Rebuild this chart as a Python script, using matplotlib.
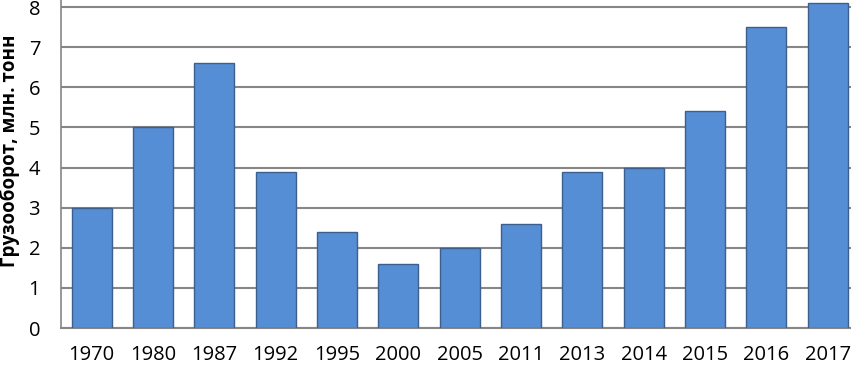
import matplotlib
matplotlib.use("Agg")
import matplotlib.pyplot as plt

# данные грузооборота
years = ["1970", "1980", "1987", "1992", "1995", "2000", "2005",
         "2011", "2013", "2014", "2015", "2016", "2017"]
cargo = [3.0, 5.0, 6.6, 3.9, 2.4, 1.6, 2.0, 2.6, 3.9, 4.0, 5.4, 7.5, 8.1]
yticks = [0, 1, 2, 3, 4, 5, 6, 7, 8]

plt.rcParams['font.family'] = ['Open Sans', 'DejaVu Sans']

fig = plt.figure(figsize=(8.51, 3.66), dpi=100)
# axes intentionally runs past the top/right edge (reference is cropped)
ax = fig.add_axes([61 / 851, 38 / 366, 797.3 / 851, 340.9 / 366])

x = range(len(years))
ax.bar(x, cargo, width=0.65, color="#558ED5", edgecolor="#3C5F8E",
       linewidth=1.0, zorder=3)

ax.set_xlim(-0.5, len(years) - 0.5)
ax.set_ylim(0, 8.5)
ax.set_yticks(yticks)
ax.set_xticks(list(x))
ax.set_xticklabels(years)
ax.yaxis.grid(True, color="#868686", linewidth=1.5, zorder=0)
ax.tick_params(axis="both", length=0, labelsize=14.5)
ax.tick_params(axis="y", pad=15)
ax.tick_params(axis="x", pad=12)

for side in ["top", "right"]:
    ax.spines[side].set_visible(False)
ax.spines["left"].set_color("#868686")
ax.spines["bottom"].set_color("#868686")
ax.spines["left"].set_linewidth(1.2)
ax.spines["bottom"].set_linewidth(1.5)

ax.set_ylabel("Грузооборот, млн. тонн", fontsize=13.5, fontweight="bold")
ax.yaxis.set_label_coords(-0.052, 0.52)

fig.savefig("out.png", dpi=100)
